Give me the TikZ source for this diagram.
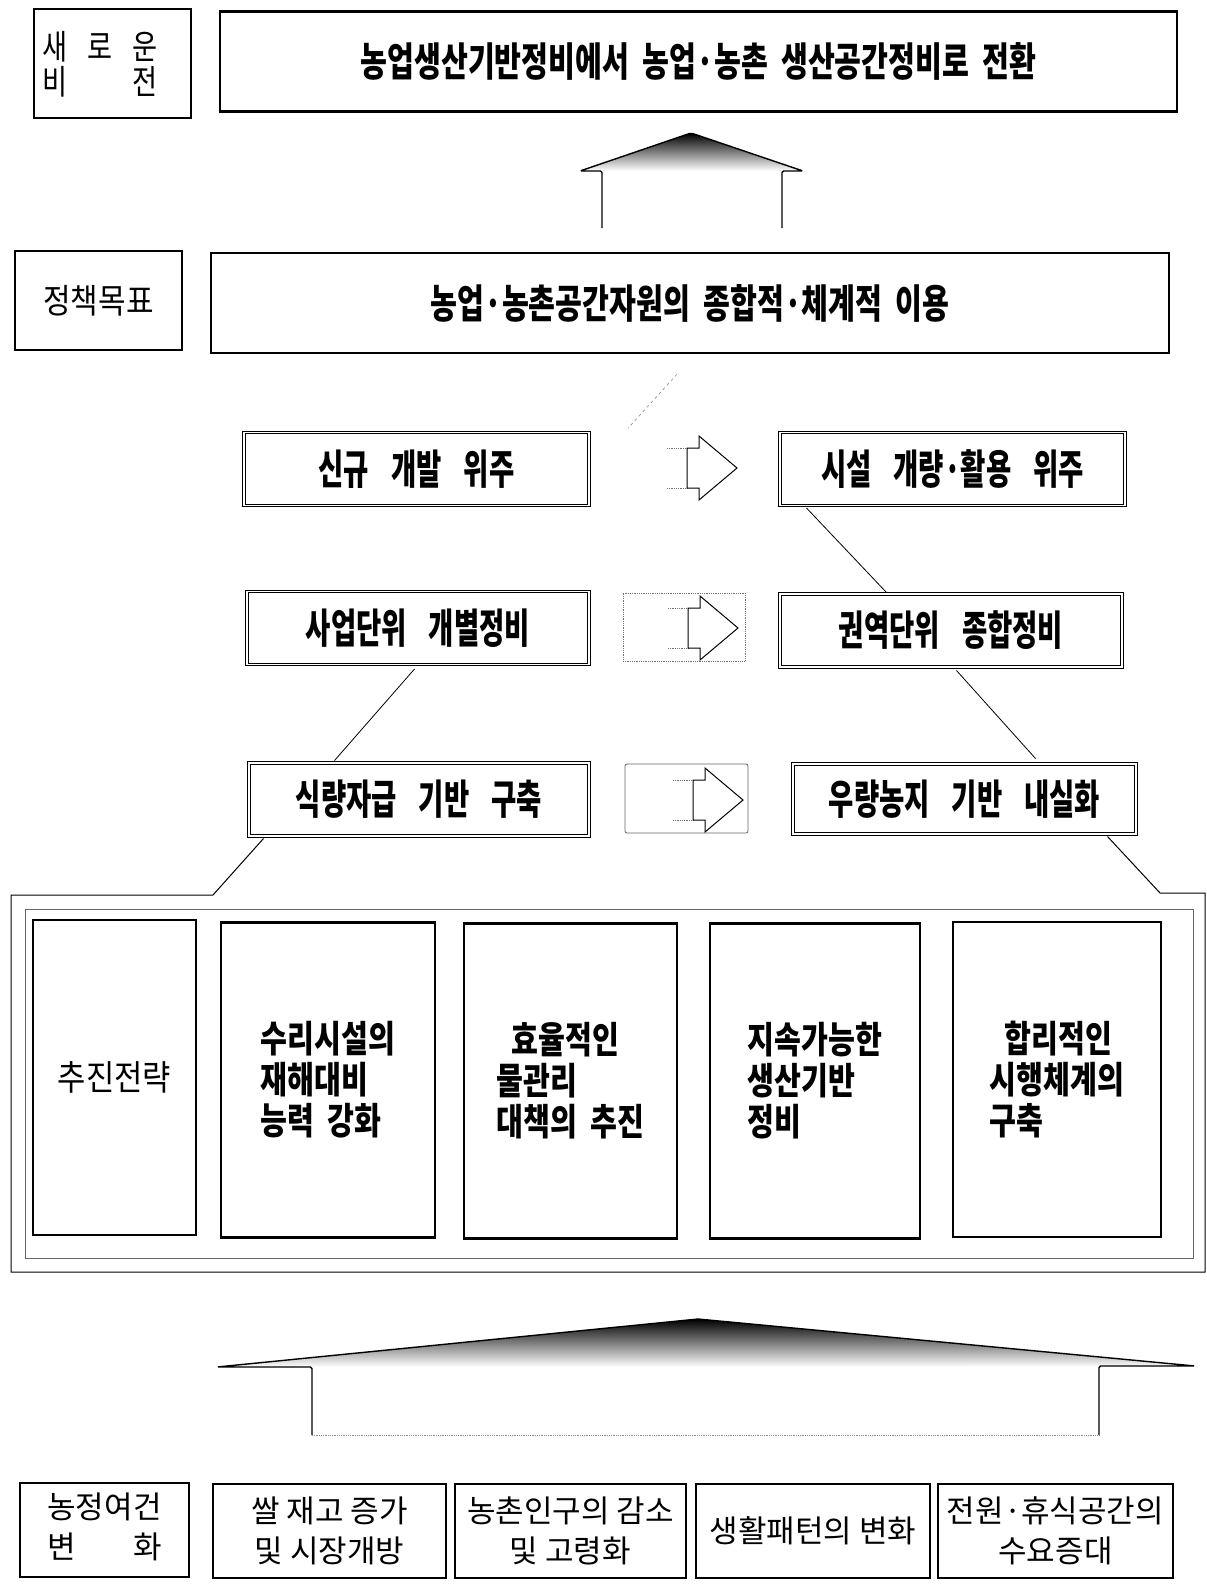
\documentclass[tikz,border=0pt]{standalone}
\usepackage{fontspec}
\setmainfont{Noto Sans CJK KR}[WordSpace=1]
\newfontfamily\krT{Noto Sans CJK KR}[FakeStretch=0.73, WordSpace=2]
\newfontfamily\krR{Noto Sans CJK KR}[FakeStretch=0.67, WordSpace=3.5]
\newfontfamily\krC{Noto Sans CJK KR}[FakeStretch=0.79, WordSpace=2]
\newfontfamily\krN{Noto Sans CJK KR}[FakeStretch=0.8, WordSpace=1]
\newfontfamily\krM{Noto Sans CJK KR}[FakeStretch=0.88, WordSpace=1]
\usetikzlibrary{calc}
\tikzset{
  mainbox/.style={draw, line width=2.4pt, inner sep=0pt, align=center},
  rowbox/.style={draw, line width=1pt, double, double distance=1.3pt, inner sep=0pt,
    minimum height=73pt, font=\krR\bfseries\fontsize{41}{46}\selectfont},
  colbox/.style={draw, line width=2.2pt, inner sep=0pt, align=left, minimum height=315pt,
    font=\krC\bfseries\fontsize{37}{41}\selectfont},
  lowbox/.style={draw, line width=2pt, inner sep=0pt, align=center, minimum height=94pt,
    font=\fontsize{31}{40}\selectfont},
  roofshade/.style={top color=black, middle color=black!40, bottom color=white},
  pics/rarrow/.style={code={
    \draw[black!55, densely dotted, line width=0.8pt] (0,-20) -- (20,-20) (0,20) -- (20,20);
    \draw[line width=1pt, line join=miter] (20,-20) -- (32,-20) -- (32,-32) -- (70,0)
      -- (32,32) -- (32,20) -- (20,20) -- cycle;
  }}
}
\begin{document}
\begin{tikzpicture}[x=1pt, y=-1pt]
\useasboundingbox (0,0) rectangle (1207,1585);
\fill[white] (0,0) rectangle (1207,1585);

% ---- vision row
\node[mainbox, line width=2pt, minimum width=157pt, minimum height=109pt] (vlabel) at (112.5,63.5) {};
\node[inner sep=0pt, font=\krN\fontsize{34}{32}\selectfont] (vtext) at (100,68)
  {\begin{tabular}{@{}c@{\hspace{20pt}}c@{\hspace{20pt}}c@{}}새&로&운\\[-3pt]비&&전\end{tabular}};
\node[mainbox, minimum width=957pt, minimum height=100pt] (vmain) at (698.5,61.5)
  {\krT\bfseries\fontsize{40}{44}\selectfont 농업생산기반정비에서 농업·농촌 생산공간정비로 전환};

% ---- top house arrow
\shade[roofshade] (580,171) -- (691,133) -- (803,171) -- cycle;
\draw[line width=1.4pt, rounded corners=1.5pt] (602,228) -- (602,171) -- (580,171) -- (691,133)
  -- (803,171) -- (782,171) -- (782,228);

% ---- policy row
\node[mainbox, line width=2pt, minimum width=167pt, minimum height=99pt] (plabel) at (98.5,300.5)
  {\krM\fontsize{34}{38}\selectfont 정책목표};
\node[mainbox, minimum width=958pt, minimum height=100pt] (pmain) at (690,303)
  {\krT\bfseries\fontsize{40}{44}\selectfont 농업·농촌공간자원의 종합적·체계적 이용};
\draw[black!45, dashed, line width=0.6pt] ($(pmain.south)+(-13,20)$) -- ($(pmain.south)+(-62,74)$);

% ---- transition rows
\node[rowbox, minimum width=345pt] (r1L) at (416.5,469) {신규 개발 위주};
\node[rowbox, minimum width=345pt] (r1R) at (952.5,469) {시설 개량·활용 위주};
\node[rowbox, minimum width=342pt] (r2L) at (418,628) {사업단위 개별정비};
\node[rowbox, minimum width=342pt] (r2R) at (951,630.5) {권역단위 종합정비};
\node[rowbox, minimum width=340pt] (r3L) at (419,799.5) {식량자급 기반 구축};
\node[rowbox, minimum width=343pt, minimum height=70pt] (r3R) at (964.5,799) {우량농지 기반 내실화};

\pic at (667,468) {rarrow};
\node[draw=black!55, densely dotted, line width=0.8pt, inner sep=0pt,
  minimum width=122pt, minimum height=68pt] (f2) at (684,627) {};
\pic at (668,628) {rarrow};
\node[draw=black!60, line width=0.8pt, rounded corners=2pt, inner sep=0pt,
  minimum width=123pt, minimum height=69pt] (f3) at (686.5,798.5) {};
\pic at (673,800) {rarrow};

\draw[line width=0.8pt] ($(r1R.south west)+(27,2)$) -- ($(r2R.north west)+(107,-1)$);
\draw[line width=0.8pt] ($(r2L.south west)+(168,4)$) -- ($(r3L.north west)+(86,-2)$);
\draw[line width=0.8pt] ($(r2R.south west)+(177,3)$) -- ($(r3R.north west)+(243,-5)$);

% ---- strategy frame
\draw[line width=1pt] ($(r3L.south west)+(15,2)$) -- (213,895) -- (11,895) -- (11,1272)
  -- (1205,1272) -- (1205,893) -- (1160,893) -- ($(r3R.south east)+(-29,2)$);
\node[draw=black!60, line width=0.9pt, inner sep=0pt, minimum width=1168pt, minimum height=349pt]
  (inner) at (609,1083.5) {};

\node[colbox, align=center, minimum width=163pt, font=\krM\fontsize{35}{40}\selectfont] (c0) at (114.5,1077.5) {추진전략};
\node[colbox, minimum width=214pt] (c1) at (328,1080) {수리시설의\\재해대비\\능력 강화};
\node[colbox, minimum width=213pt] (c2) at (570.5,1081) {\hspace*{15pt}효율적인\\물관리\\대책의 추진};
\node[colbox, minimum width=210pt] (c3) at (815,1081) {지속가능한\\생산기반\\정비};
\node[colbox, minimum width=208pt] (c4) at (1057,1079.5) {\hspace*{15pt}합리적인\\시행체계의\\구축};

% ---- bottom house arrow
\shade[roofshade] (217,1367) -- (698,1319) -- (1195,1366) -- cycle;
\draw[line width=1.4pt, rounded corners=1.5pt] (312,1435) -- (312,1367) -- (217,1367) -- (698,1319)
  -- (1195,1366) -- (1099,1366) -- (1099,1435);
\draw[black!45, densely dotted, line width=0.8pt] (312,1435) -- (1099,1435);

% ---- conditions row
\node[lowbox, minimum width=169pt, align=none] (blabel) at (104.5,1530)
  {\begin{tabular}{@{}c@{}}농정여건\\변\hfill 화\end{tabular}};
\node[lowbox, minimum width=233pt] (b1) at (329.5,1530.5) {쌀 재고 증가\\및 시장개방};
\node[lowbox, minimum width=231pt] (b2) at (570.5,1530.5) {농촌인구의 감소\\및 고령화};
\node[lowbox, minimum width=234pt] (b3) at (813,1530.5) {생활패턴의 변화};
\node[lowbox, minimum width=235pt] (b4) at (1055.5,1530.5) {전원·휴식공간의\\수요증대};
\end{tikzpicture}
\end{document}
